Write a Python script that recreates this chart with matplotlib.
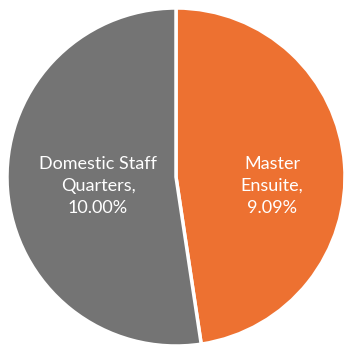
import numpy as np
import matplotlib.pyplot as plt

labels = ['Master Ensuite', 'Domestic Staff Quarters']
label_lines = ['Master\nEnsuite,', 'Domestic Staff\nQuarters,']
shares = [9.09, 10.00]
colors = ['#ED7131', '#747474']

fig = plt.figure(figsize=(3.45, 3.46), dpi=100)
ax = fig.add_axes([0, 0, 1, 1])
ax.set_aspect('equal')
ax.axis('off')

cx, cy, r = 176, 346 - 177, 169
wedges, _ = ax.pie(shares, colors=colors, startangle=90, counterclock=False,
                   center=(cx, cy), radius=r,
                   wedgeprops=dict(edgecolor='white', linewidth=2.5))
ax.set_xlim(0, 345)
ax.set_ylim(0, 346)

# labels sit inside each slice, a bit below the horizontal axis
offsets = [(96, -9), (-78, -9)]
for text, val, (dx, dy) in zip(label_lines, shares, offsets):
    ax.text(cx + dx, cy + dy, '%s\n%.2f%%' % (text, val), ha='center', va='center',
            color='white', fontsize=13, family='Lato', linespacing=1.45)

fig.savefig('out.png', dpi=100)
